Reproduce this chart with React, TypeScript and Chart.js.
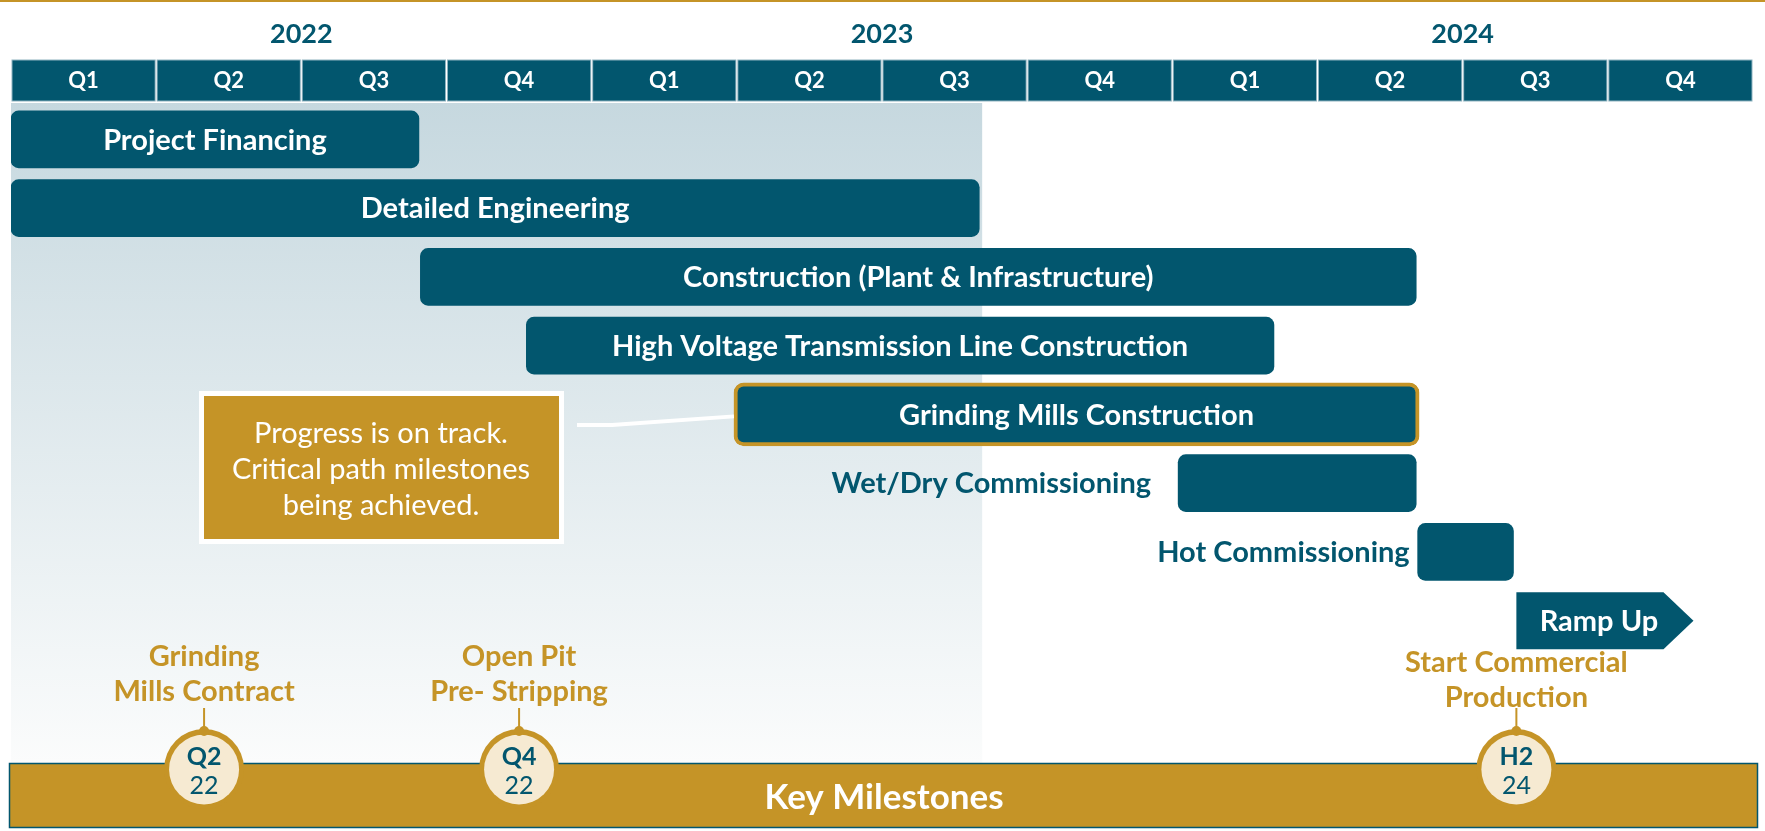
import React, { useEffect, useRef } from "react";
import { Chart, registerables } from "chart.js";
Chart.register(...registerables);

// ---------- data ----------
const tasks = [
  "Project Financing",
  "Detailed Engineering",
  "Construction (Plant & Infrastructure)",
  "High Voltage Transmission Line Construction",
  "Grinding Mills Construction",
  "Wet/Dry Commissioning",
  "Hot Commissioning",
  "Ramp Up",
];
// quarters elapsed since the start of 2022 Q1
const taskStart = [0, 0, 2.82, 3.55, 4.98, 8.04, 9.69, 10.37];
const taskEnd = [2.81, 6.67, 9.68, 8.7, 9.7, 9.68, 10.35, 11.59];
const highlightedTask = "Grinding Mills Construction";
const arrowTask = "Ramp Up";
const years = ["2022", "2023", "2024"];
const quarterLabels = ["Q1", "Q2", "Q3", "Q4"];
const progressQuarter = 6.69;
const milestonePos = [1.33, 3.5, 10.37];
const milestoneTitles = [
  ["Grinding", "Mills Contract"],
  ["Open Pit", "Pre- Stripping"],
  ["Start Commercial", "Production"],
];
const milestonePeriod = ["Q2", "Q4", "H2"];
const milestoneYear = ["22", "22", "24"];
const calloutLines = ["Progress is on track.", "Critical path milestones", "being achieved."];
const footerTitle = "Key Milestones";

// ---------- styles ----------
const TEAL = "#02566E";
const GOLD = "#C59427";
const CREAM = "#F6EAD2";
const FONT = "Lato, 'Open Sans', sans-serif";
const outsideGap: Record<string, number> = { "Wet/Dry Commissioning": 27, "Hot Commissioning": 8 };

const backgroundPlugin = {
  id: "ganttBackground",
  beforeDatasetsDraw(chart: any) {
    const { ctx, scales } = chart;
    const xs = scales.x;
    ctx.save();
    // top gold rule
    ctx.fillStyle = GOLD;
    ctx.fillRect(0, 0, chart.width, 2);
    // progress shading
    const sx0 = xs.getPixelForValue(0);
    const sx1 = xs.getPixelForValue(progressQuarter);
    const g = ctx.createLinearGradient(0, 103, 0, 763);
    g.addColorStop(0, "#C6D8DF");
    g.addColorStop(1, "#FBFCFC");
    ctx.fillStyle = g;
    ctx.fillRect(sx0, 103, sx1 - sx0, 660);
    // header quarter cells
    const nQ = years.length * quarterLabels.length;
    for (let q = 0; q < nQ; q++) {
      const x0 = xs.getPixelForValue(q);
      const x1 = xs.getPixelForValue(q + 1);
      ctx.fillStyle = "#8FB3C0";
      ctx.fillRect(x0 + 0.5, 59.5, x1 - x0 - 1, 42);
      ctx.fillStyle = TEAL;
      ctx.fillRect(x0 + 1.5, 60.5, x1 - x0 - 3, 40);
      ctx.fillStyle = "#FFFFFF";
      ctx.font = `bold 22px ${FONT}`;
      ctx.textAlign = "center";
      ctx.textBaseline = "middle";
      ctx.fillText(quarterLabels[q % 4], (x0 + x1) / 2, 81);
    }
    // years
    ctx.fillStyle = TEAL;
    ctx.font = `bold 27px ${FONT}`;
    years.forEach((y, i) => {
      ctx.fillText(y, xs.getPixelForValue(i * 4 + 2), 34);
    });
    ctx.restore();
  },
};

const overlayPlugin = {
  id: "ganttOverlay",
  afterDatasetsDraw(chart: any) {
    const { ctx, scales } = chart;
    const xs = scales.x;
    ctx.save();
    ctx.textAlign = "center";
    ctx.textBaseline = "middle";

    const m0 = chart.getDatasetMeta(0);
    const m1 = chart.getDatasetMeta(1);
    let grind: any = null;
    tasks.forEach((name, i) => {
      const el = name === highlightedTask ? m1.data[i] : m0.data[i];
      if (!el) return;
      const p = el.getProps(["x", "y", "base", "height"], true);
      const left = Math.min(p.x, p.base);
      const right = Math.max(p.x, p.base);
      const top = p.y - p.height / 2;
      const bottom = p.y + p.height / 2;
      if (name === highlightedTask) grind = { left, y: p.y };
      let cx = (left + right) / 2;
      if (name === arrowTask) {
        const notch = 30;
        ctx.fillStyle = TEAL;
        ctx.beginPath();
        ctx.moveTo(left, top);
        ctx.lineTo(right - notch, top);
        ctx.lineTo(right, p.y);
        ctx.lineTo(right - notch, bottom);
        ctx.lineTo(left, bottom);
        ctx.closePath();
        ctx.fill();
        cx = (left + right - 12) / 2;
      }
      ctx.font = `bold 29px ${FONT}`;
      const w = ctx.measureText(name).width;
      if (w > right - left - 20) {
        ctx.fillStyle = TEAL;
        ctx.textAlign = "right";
        ctx.fillText(name, left - (outsideGap[name] ?? 15), p.y + 1);
        ctx.textAlign = "center";
      } else {
        ctx.fillStyle = "#FFFFFF";
        ctx.fillText(name, cx, p.y + 1);
      }
    });

    // callout box
    ctx.fillStyle = "#FFFFFF";
    ctx.fillRect(199, 391, 365, 153);
    ctx.fillStyle = GOLD;
    ctx.fillRect(204, 396, 355, 143);
    ctx.fillStyle = "#FFFFFF";
    ctx.font = `29px ${FONT}`;
    calloutLines.forEach((l, i) => ctx.fillText(l, 381, 434 + i * 36));
    if (grind) {
      ctx.strokeStyle = "#FFFFFF";
      ctx.lineWidth = 4;
      ctx.beginPath();
      ctx.moveTo(577, 425);
      ctx.lineTo(612, 425);
      ctx.lineTo(grind.left, grind.y + 2);
      ctx.stroke();
    }

    // footer bar
    ctx.fillStyle = GOLD;
    ctx.fillRect(9, 763, 1749, 65);
    ctx.strokeStyle = TEAL;
    ctx.lineWidth = 1.5;
    ctx.strokeRect(9.5, 763.5, 1748, 64);
    ctx.fillStyle = "#FFFFFF";
    ctx.font = `bold 35px ${FONT}`;
    ctx.fillText(footerTitle, 884, 798);

    // milestones
    const cy = 769;
    milestonePos.forEach((v, i) => {
      const x = xs.getPixelForValue(v);
      ctx.fillStyle = GOLD;
      ctx.font = `bold 29px ${FONT}`;
      const ty = i === milestonePos.length - 1 ? 663 : 657;
      ctx.fillText(milestoneTitles[i][0], x, ty);
      ctx.fillText(milestoneTitles[i][1], x, ty + 35);
      ctx.strokeStyle = GOLD;
      ctx.lineWidth = 2;
      ctx.beginPath();
      ctx.moveTo(x, 708);
      ctx.lineTo(x, cy - 36);
      ctx.stroke();
      ctx.beginPath();
      ctx.arc(x, cy, 40, 0, Math.PI * 2);
      ctx.fill();
      ctx.fillStyle = CREAM;
      ctx.beginPath();
      ctx.arc(x, cy + 0.5, 35, 0, Math.PI * 2);
      ctx.fill();
      ctx.fillStyle = GOLD;
      ctx.beginPath();
      ctx.arc(x, cy - 38, 5, 0, Math.PI * 2);
      ctx.fill();
      ctx.fillStyle = TEAL;
      ctx.font = `bold 25px ${FONT}`;
      ctx.fillText(milestonePeriod[i], x, 757);
      ctx.font = `25px ${FONT}`;
      ctx.fillText(milestoneYear[i], x, 786);
    });
    ctx.restore();
  },
};

export default function App() {
  const ref = useRef<HTMLCanvasElement>(null);
  useEffect(() => {
    document.body.style.margin = "0";
    document.body.style.background = "#FFFFFF";
    Chart.defaults.font.family = FONT;
    const chart = new Chart(ref.current as HTMLCanvasElement, {
      type: "bar",
      data: {
        labels: tasks,
        datasets: [
          {
            label: "tasks",
            data: tasks.map((t, i) => (t === highlightedTask ? null : [taskStart[i], taskEnd[i]])) as any,
            backgroundColor: (c: any) => (tasks[c.dataIndex] === arrowTask ? "rgba(0,0,0,0)" : TEAL),
            borderRadius: 8,
            borderSkipped: false,
            barThickness: 57,
            grouped: false,
          } as any,
          {
            label: "highlight",
            data: tasks.map((t, i) => (t === highlightedTask ? [taskStart[i], taskEnd[i]] : null)) as any,
            backgroundColor: TEAL,
            borderColor: GOLD,
            borderWidth: 4,
            borderRadius: 10,
            borderSkipped: false,
            barThickness: 63,
            grouped: false,
          } as any,
        ],
      },
      options: {
        responsive: false,
        animation: false,
        indexAxis: "y",
        layout: { padding: { left: 11, right: 12, top: 105, bottom: 176 } },
        scales: {
          x: { type: "linear", min: 0, max: 12, display: false },
          y: { type: "category", display: false, offset: true },
        },
        plugins: { legend: { display: false }, tooltip: { enabled: false } },
      },
      plugins: [backgroundPlugin, overlayPlugin],
    });
    let alive = true;
    (document as any).fonts?.ready?.then(() => {
      if (alive) chart.update();
    });
    return () => {
      alive = false;
      chart.destroy();
    };
  }, []);
  return (
    <div style={{ width: 1765, height: 831 }}>
      <canvas ref={ref} width={1765} height={831} style={{ display: "block" }} />
    </div>
  );
}
